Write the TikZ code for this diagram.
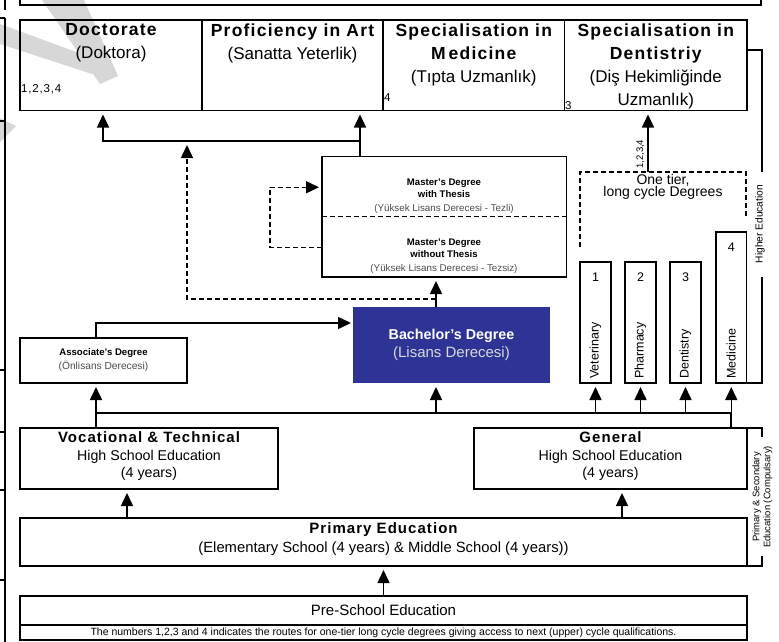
\documentclass[tikz,border=0pt]{standalone}
\usepackage{fontspec}
\setmainfont{Liberation Sans}
\newfontfamily\spacedfont[LetterSpace=7]{Liberation Sans}
\usepackage{tikz}
\definecolor{bluish}{RGB}{46, 52, 150}
\definecolor{greyish}{RGB}{215, 215, 215}
\usetikzlibrary{arrows.meta,calc}
\newcommand{\topHead}{\spacedfont\bfseries\fontsize{17.5}{23}\selectfont}
\newcommand{\topSub}{\rmfamily\mdseries\fontsize{17}{23}\selectfont}
\newcommand{\midHead}{\spacedfont\bfseries\fontsize{15}{17.5}\selectfont}
\newcommand{\midSub}{\rmfamily\mdseries\fontsize{14.2}{17.5}\selectfont}
\newcommand{\tinyHead}{\bfseries\fontsize{9.6}{12}\selectfont}
\newcommand{\tinySub}{\mdseries\fontsize{9.8}{12}\selectfont\color{black!70}}
\tikzset{
  edu_box/.style = {draw, rectangle, line width=1.4pt, inner sep=0pt,
    outer sep=0pt, anchor=north west},% frame of one level
  edu_txt/.style = {align=center, inner sep=0pt, anchor=north},% text set at the top of a frame
  col_box/.style = {edu_box, minimum width=31pt},% one tier column
  col_num/.style = {inner sep=0pt, font=\fontsize{12.5}{14}\selectfont},
  col_lbl/.style = {inner sep=0pt, rotate=90, anchor=west,
    font=\fontsize{12.5}{14}\selectfont},
  side_lbl/.style = {inner sep=0pt, rotate=90, align=center},% side brackets
}

\begin{document}
\begin{tikzpicture}[x=1pt, y=-1pt, >={Triangle[width=12pt,length=13pt]},
  conn/.style = {line width=1.5pt},
  thin_line/.style = {line width=1.2pt},
  arr/.style = {conn, ->, shorten >=4pt},
  dash_line/.style = {line width=1.4pt, dash pattern=on 5pt off 3pt},
  dash_arr/.style = {arr, dash pattern=on 5pt off 3pt},
]
\useasboundingbox (0,0) rectangle (779,642);

% watermark and cut off parts
\fill[greyish] (42,0) -- (84,0) -- (118,76) -- (100,84) -- cycle;
\fill[greyish] (0,24) -- (0,44) -- (92,74) -- (98,60) -- cycle;
\fill[greyish] (0,118) -- (0,142) -- (16,126) -- cycle;
\draw[thin_line] (20,-5) -- (20,5) -- (761,5) -- (761,-5);
\draw[thin_line] (5,0) -- (5,10) (5,18) -- (5,642);
\foreach \yy in {18,121,370,432,490,580}
  \draw[thin_line] (0,\yy) -- (5,\yy);

% top level
\node[edu_box, minimum width=182pt, minimum height=90.5pt] (doc) at (20,20) {};
\node[edu_box, minimum width=181pt, minimum height=90.5pt] (prof) at (202,20) {};
\node[edu_box, minimum width=181.5pt, minimum height=90.5pt] (spmed) at (383,20) {};
\node[edu_box, minimum width=182.5pt, minimum height=90.5pt] (spden) at (564.5,20) {};
\node[edu_txt, font=\topHead] (doc_t) at (doc.north |- 0,23.5) {Doctorate\\\topSub(Doktora)};
\node[edu_txt, font=\topHead] (prof_t) at (prof.north |- 0,23.5) {Proficiency in Art\\\topSub(Sanatta Yeterlik)};
\node[edu_txt, font=\topHead] (spmed_t) at (spmed.north |- 0,23.5) {Specialisation in\\M\hspace{3pt}edicine\\\topSub(Tıpta Uzmanlık)};
\node[edu_txt, font=\topHead] (spden_t) at (spden.north |- 0,23.5) {Specialisation in\\Dentistriy\\\topSub(Diş Hekimliğinde\\\topSub Uzmanlık)};
\node[inner sep=0pt, anchor=base west, font=\spacedfont\fontsize{11.5}{13}\selectfont] (doc_n) at (21,92.5) {1,2,3,4};
\node[inner sep=0pt, anchor=base west, font=\fontsize{11.5}{13}\selectfont] (spmed_n) at (384,101.5) {4};
\node[inner sep=0pt, anchor=base west, font=\fontsize{11.5}{13}\selectfont] (spden_n) at (565,109) {3};

% master
\node[edu_box, minimum width=244.5pt, minimum height=120.5pt] (mast) at (322,156.5) {};
\draw[dash_line] (mast.west) -- (mast.east);
\node[align=center, inner sep=0pt, font=\tinyHead] (mast_t) at (444,196) {Master's Degree\\with Thesis\\[2pt]\tinySub(Yüksek Lisans Derecesi - Tezli)};
\node[align=center, inner sep=0pt, font=\tinyHead] (mast_nt) at (444,256) {Master's Degree\\without Thesis\\[2pt]\tinySub(Yüksek Lisans Derecesi - Tezsiz)};

% one tier, long cycle
\foreach \nm/\xx/\num/\lbl in {vet/580/1/Veterinary, pha/625/2/Pharmacy, den/670/3/Dentistry}{
  \node[col_box, minimum height=121pt] (\nm) at (\xx,262) {};
  \node[col_num] (\nm_n) at ($(\nm.north)+(0,15)$) {\num};
  \node[col_lbl] (\nm_l) at ($(\nm.south)+(0,-4)$) {\lbl};
}
\node[col_box, minimum width=30.5pt, minimum height=151pt] (med) at (716,232) {};
\node[col_num] (med_n) at ($(med.north)+(0,15)$) {4};
\node[col_lbl] (med_l) at ($(med.south)+(0,-4)$) {Medicine};
\draw[dash_line] (580,247) |- (746,172) -- (746,217);
\node[align=center, inner sep=0pt, font=\fontsize{14}{12.5}\selectfont] (ot_t) at (663,187) {One tier,\\long cycle Degrees};
\coordinate (ot_top) at (648,172);
\draw[arr] (ot_top) -- (ot_top |- spden.south);
\node[inner sep=0pt, rotate=90, anchor=west, font=\fontsize{9.5}{11}\selectfont] (ot_n) at (640.5,169) {1,2,3,4};

% first cycle
\node[edu_box, minimum width=167pt, minimum height=45pt, align=center, font=\tinyHead] (asso) at (20,338)
  {Associate's Degree\\[2pt]\tinySub\fontsize{10.2}{12}\selectfont(Önlisans Derecesi)};
\node[edu_box, draw=none, fill=bluish, text=white, minimum width=197pt, minimum height=76pt, align=center,
  font=\bfseries\fontsize{14.3}{18}\selectfont] (bach) at (353,307)
  {Bachelor's Degree\\\mdseries\fontsize{15}{18}\selectfont\color{white!85!black}(Lisans Derecesi)};

% secondary and primary
\node[edu_box, minimum width=258pt, minimum height=61pt] (voc) at (20,428) {};
\node[edu_box, minimum width=273pt, minimum height=61pt] (gen) at (474,428) {};
\node[edu_txt, font=\midHead] (voc_t) at (voc.north |- 0,431.5) {Vocational \& Technical\\\midSub High School Education\\\midSub(4 years)};
\node[edu_txt, font=\midHead] (gen_t) at (gen.north |- 0,431.5) {General\\\midSub High School Education\\\midSub(4 years)};
\node[edu_box, minimum width=727pt, minimum height=48pt] (prim) at (20,518) {};
\node[edu_txt, font=\spacedfont\bfseries\fontsize{15}{19}\selectfont] (prim_t) at (prim.north |- 0,522.5) {Primary Education\\\rmfamily\mdseries\fontsize{14.8}{19}\selectfont(Elementary School (4 years) \& Middle School (4 years))};
\node[edu_box, minimum width=727pt, minimum height=29pt, font=\fontsize{15}{17}\selectfont] (pre) at (20,596) {Pre-School Education};
\node[edu_box, minimum width=727pt, minimum height=15pt, font=\fontsize{10.5}{12}\selectfont] (fnote) at (20,625) {The numbers 1,2,3 and 4 indicates the routes for one-tier long cycle degrees giving access to next (upper) cycle qualifications.};

% side brackets
\draw[thin_line] (spden.east |- 0,50) -- (762,50) -- (762,172);
\draw[thin_line] (762,277) -- (762,383) -- (med.south east);
\node[side_lbl, font=\fontsize{10.2}{12}\selectfont] (he_t) at (760,224) {Higher Education};
\draw[thin_line] (gen.north east) -- (762,428) -- (762,437);
\draw[thin_line] (762,556) -- (762,566) -- (prim.south east);
\node[side_lbl, font=\fontsize{9.5}{11}\selectfont] (comp_t) at (762.5,497) {Primary \& Secondary\\Education (Compulsary)};

% connections
\coordinate (bus_l) at (96,413);
\coordinate (bus_r) at (731,413);
\coordinate (bach_x) at (436,413);
\coordinate (dash_split) at (436,299);
\coordinate (top_j) at (360,141);
\coordinate (doc_j) at (103,141);
\coordinate (doc_line) at (187,141);
\draw[arr] (pre.north) -- (prim.south);
\draw[arr] (prim.north -| 127,0) -- (voc.south -| 127,0);
\draw[arr] (prim.north -| 622,0) -- (gen.south -| 622,0);
\draw[conn] (voc.north -| bus_l) -- (bus_l) -- (bus_r) -- (gen.north -| bus_r);
\draw[arr] (bus_l) -- (asso.south -| bus_l);
\draw[arr] (bach_x) -- (bach.south -| bach_x);
\foreach \nm in {vet,pha,den,med}
  \draw[arr] (\nm.south |- bus_l) -- (\nm.south);
\draw[arr, shorten >=2pt] (asso.north -| bus_l) |- ($(bach.north west)+(0,16)$);
\draw[arr] (bach.north -| bach_x) -- (mast.south -| bach_x);
\draw[dash_arr] (dash_split) -| (doc_line);
\draw[dash_arr, shorten >=3pt] ($(mast.west)+(0,30.5)$) -- ++(-52,0) |- ($(mast.west)+(0,-29.5)$);
\draw[arr] (mast.north -| top_j) -- (top_j |- prof.south);
\draw[arr] (top_j) -- (doc_j) -- (doc_j |- doc.south);
\end{tikzpicture}
\end{document}
